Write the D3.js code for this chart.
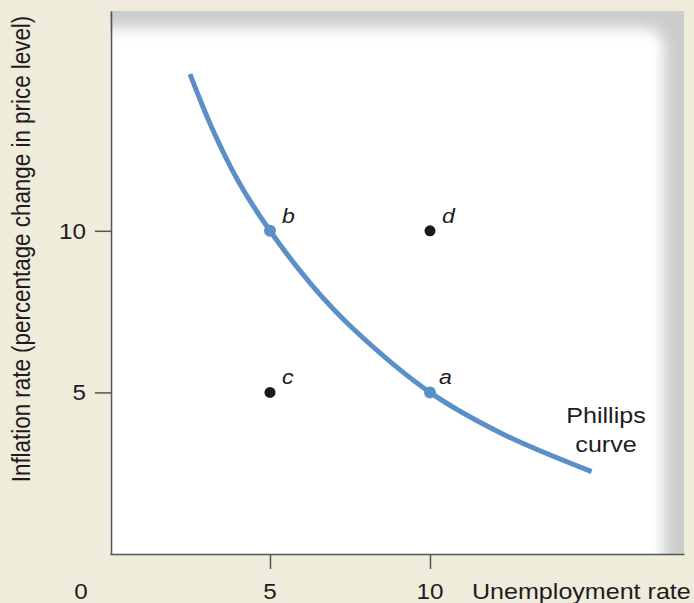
<!DOCTYPE html>
<html>
<head>
<meta charset="utf-8">
<script src="https://cdn.jsdelivr.net/npm/d3@7"></script>
<style>
  html, body { margin: 0; padding: 0; background: #f0ecdb; }
  svg { display: block; }
  text { font-family: "Liberation Sans", Arial, Helvetica, sans-serif; fill: #1e1c1d; }
</style>
</head>
<body>
<svg id="chart" width="694" height="603"></svg>
<script>
// Phillips curve: inflation (y) against unemployment (x)
const curveX = [2.5, 3.2, 4.0, 5, 6.3, 7.6, 10, 12.3, 15.05];
const curveY = [14.85, 13.15, 11.55, 10, 8.33, 6.97, 5, 3.7, 2.55];

// Labelled combinations of unemployment and inflation
const pointNames = ["b", "d", "c", "a"];
const pointX = [5, 10, 5, 10];
const pointY = [10, 10, 5, 5];
const pointOnCurve = [true, false, false, true];

const xTicks = [5, 10];
const yTicks = [5, 10];
const xTickLabels = ["5", "10"];
const yTickLabels = ["5", "10"];
const originLabel = "0";
const xTitle = "Unemployment rate";
const yTitle = "Inflation rate (percentage change in price level)";
const curveLabel = ["Phillips", "curve"];

const box = { left: 110, right: 684, top: 11, bottom: 554 };
const stretch = 1.1;
const wordStretch = 1.14;
const lineColor = "#5b8fc7";
const axisColor = "#555555";

const x = d3.scaleLinear().domain([0, (box.right - box.left) / 32]).range([box.left, box.right]);
const y = d3.scaleLinear().domain([0, (box.bottom - box.top) / 32.32]).range([box.bottom, box.top]);

const svg = d3.select("#chart");
const defs = svg.append("defs");

defs.append("clipPath").attr("id", "panelClip")
  .append("rect").attr("x", box.left).attr("y", box.top)
  .attr("width", box.right - box.left).attr("height", box.bottom - box.top);

defs.append("filter").attr("id", "soft")
  .attr("x", "-20%").attr("y", "-20%").attr("width", "140%").attr("height", "140%")
  .append("feGaussianBlur").attr("stdDeviation", 7);

// Panel: grey frame fading into a white rounded interior
const panel = svg.append("g").attr("clip-path", "url(#panelClip)");
panel.append("rect")
  .attr("x", box.left).attr("y", box.top)
  .attr("width", box.right - box.left).attr("height", box.bottom - box.top)
  .attr("fill", "#cbccce");
panel.append("rect")
  .attr("x", box.left - 60).attr("y", box.top + 17)
  .attr("width", (box.right - 20) - (box.left - 60)).attr("height", box.bottom - box.top + 60)
  .attr("rx", 20).attr("ry", 20)
  .attr("fill", "#ffffff")
  .attr("filter", "url(#soft)");

// Axes
const xAxis = d3.axisBottom(x).tickValues(xTicks).tickSize(15).tickSizeOuter(0).tickFormat("");
const yAxis = d3.axisLeft(y).tickValues(yTicks).tickSize(16).tickSizeOuter(0).tickFormat("");

const gx = svg.append("g").attr("transform", `translate(0,${box.bottom})`).call(xAxis);
const gy = svg.append("g").attr("transform", `translate(${box.left + 1},0)`).call(yAxis);
[gx, gy].forEach(g => {
  g.select(".domain").attr("stroke", axisColor).attr("stroke-width", 1.6);
  g.selectAll(".tick line").attr("stroke", axisColor).attr("stroke-width", 1.5);
});

function label(tx, ty, str, opts = {}) {
  const t = svg.append("text")
    .attr("transform", `translate(${tx},${ty}) scale(${opts.stretch || stretch},1)` + (opts.rotate ? ` rotate(${opts.rotate})` : ""))
    .attr("text-anchor", opts.anchor || "start")
    .attr("font-size", opts.size || 22)
    .text(str);
  if (opts.italic) t.attr("font-style", "italic");
  if (opts.dy) t.attr("dy", opts.dy);
  return t;
}

// Tick labels
xTicks.forEach((v, i) => label(x(v), 599, xTickLabels[i], { anchor: "middle" }));
yTicks.forEach((v, i) => label(86, y(v), yTickLabels[i], { anchor: "end", dy: "0.36em" }));
label(x(0) - 29, 599, originLabel, { anchor: "middle" });

// Axis titles
label(472, 599, xTitle, { stretch: wordStretch });
label(30, 249, yTitle, { anchor: "middle", rotate: -90, size: 22.4, stretch: 1.14 });

// Phillips curve
const line = d3.line()
  .x((d, i) => x(curveX[i]))
  .y((d, i) => y(curveY[i]))
  .curve(d3.curveCatmullRom.alpha(0.5));
svg.append("path")
  .datum(curveX)
  .attr("d", line)
  .attr("fill", "none")
  .attr("stroke", lineColor)
  .attr("stroke-width", 5);

// Points
pointNames.forEach((n, i) => {
  svg.append("circle")
    .attr("cx", x(pointX[i])).attr("cy", y(pointY[i]))
    .attr("r", pointOnCurve[i] ? 6 : 5.5)
    .attr("fill", pointOnCurve[i] ? lineColor : "#1a1a1a");
  const dx = n === "a" ? 9 : 12;
  label(x(pointX[i]) + dx, y(pointY[i]) - 8, n, { italic: true, size: 21 });
});

// Curve name
label(606, 423, curveLabel[0], { anchor: "middle", stretch: wordStretch });
label(606, 452, curveLabel[1], { anchor: "middle", stretch: wordStretch });
</script>
</body>
</html>
